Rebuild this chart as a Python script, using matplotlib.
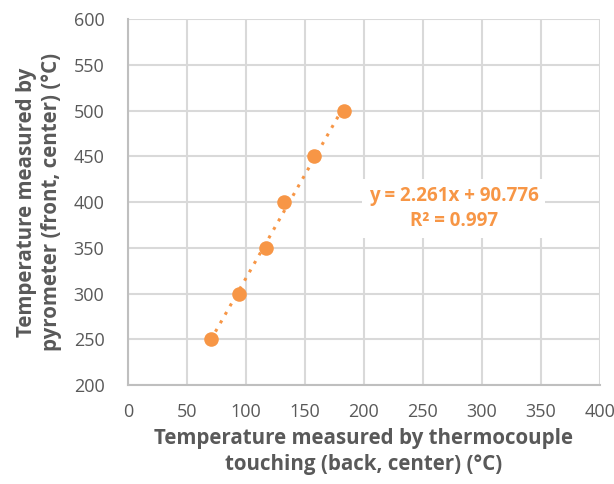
import matplotlib.pyplot as plt
import numpy as np

plt.rcParams['font.family'] = ['Open Sans', 'DejaVu Sans']

# readings
thermocouple = np.array([70, 94, 117, 132, 158, 183])
pyrometer = np.array([250, 300, 350, 400, 450, 500])
slope, intercept = 2.261, 90.776
r2 = 0.997

orange = '#F79646'
grey = '#595959'

fig = plt.figure(figsize=(6.14, 4.84), dpi=100)
ax = fig.add_axes([0.2085, 0.2045, 0.7685, 0.7562])

# trendline over data range
xt = np.array([thermocouple.min(), thermocouple.max()])
ax.plot(xt, slope * xt + intercept, linestyle=(0, (1, 2.2)), color=orange, lw=2.2, zorder=3)
ax.scatter(thermocouple, pyrometer, s=110, color=orange, zorder=4, linewidths=0)

ax.set_xlim(0, 400)
ax.set_ylim(200, 600)
ax.set_xticks(np.arange(0, 401, 50))
ax.set_yticks(np.arange(200, 601, 50))
ax.grid(True, color='#D9D9D9', lw=1.5)
ax.set_axisbelow(True)
ax.tick_params(length=0, labelsize=13, labelcolor=grey)
ax.tick_params(axis='x', pad=13)
ax.tick_params(axis='y', pad=17)
for s in ['top', 'right']:
    ax.spines[s].set_visible(False)
for s in ['left', 'bottom']:
    ax.spines[s].set_color('#BFBFBF')
    ax.spines[s].set_linewidth(1.5)

ax.set_xlabel('Temperature measured by thermocouple\ntouching (back, center) (°C)',
              fontsize=14.8, fontweight='bold', color=grey, labelpad=5, linespacing=1.3)
ax.set_ylabel('Temperature measured by\npyrometer (front, center) (°C)',
              fontsize=14.8, fontweight='bold', color=grey, labelpad=8, linespacing=1.3)

ax.text(276, 393, 'y = 2.261x + 90.776\nR² = 0.997', ha='center', va='center',
        fontsize=13.5, fontweight='bold', color=orange, linespacing=1.3,
        bbox=dict(facecolor='white', edgecolor='none', pad=5), zorder=5)

fig.savefig('out.png', dpi=100)
